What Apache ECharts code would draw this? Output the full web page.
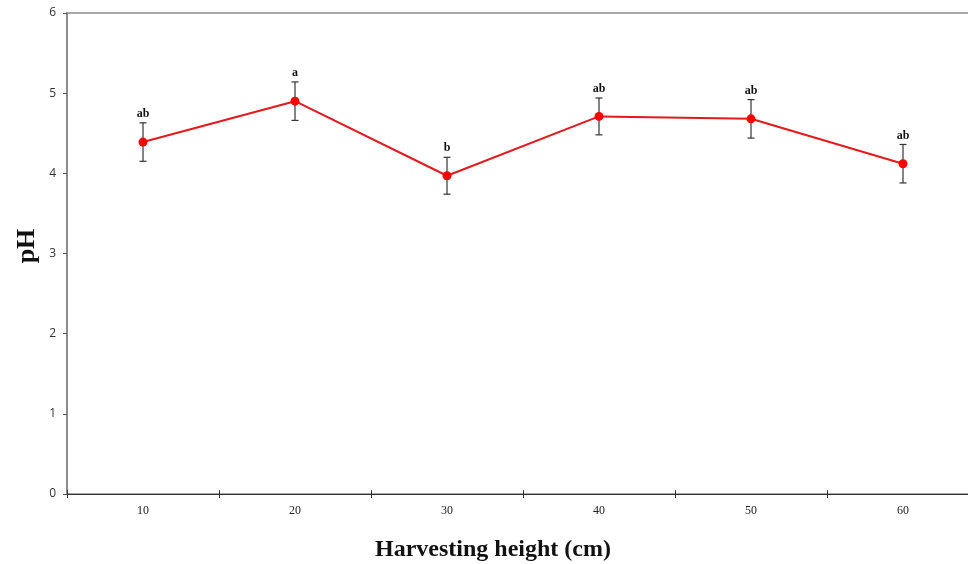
<!DOCTYPE html>
<html>
<head>
<meta charset="utf-8">
<script src="https://cdn.jsdelivr.net/npm/echarts@6/dist/echarts.min.js"></script>
<style>html,body{margin:0;padding:0;background:#fff}#c{width:968px;height:564px}</style>
</head>
<body>
<div id="c"></div>
<script>
var categories = ['10', '20', '30', '40', '50', '60'];
var phValues = [4.39, 4.90, 3.97, 4.71, 4.68, 4.12];
var phErrors = [0.24, 0.24, 0.23, 0.23, 0.24, 0.24];
var letters = ['ab', 'a', 'b', 'ab', 'ab', 'ab'];
var yTicks = [0, 1, 2, 3, 4, 5, 6];
var xTitle = 'Harvesting height (cm)';
var yTitle = 'pH';

var chart = echarts.init(document.getElementById('c'));
var errData = phValues.map(function (v, i) { return [i, v - phErrors[i], v + phErrors[i], letters[i]]; });

chart.setOption({
  animation: false,
  grid: { left: 67, top: 13, width: 912, height: 481, outerBoundsMode: 'none', containLabel: false,
    show: true, borderColor: '#8c8c8c', borderWidth: 1.5, backgroundColor: 'transparent' },
  graphic: [
    { type: 'text', x: 493, y: 550,
      style: { text: xTitle, font: 'bold 24px "Liberation Serif"', fill: '#111', textAlign: 'center', textVerticalAlign: 'middle' } },
    { type: 'text', x: 27, y: 246, rotation: Math.PI / 2,
      style: { text: yTitle, font: 'bold 26px "Liberation Serif"', fill: '#111', textAlign: 'center', textVerticalAlign: 'middle' } }
  ],
  xAxis: [{
    type: 'category', data: categories, boundaryGap: true, position: 'bottom',
    axisLine: { lineStyle: { color: '#333', width: 1.2 } },
    axisTick: { show: true, interval: 0, length: 4, inside: false, lineStyle: { color: '#333' } },
    axisLabel: { color: '#222', fontFamily: 'Liberation Serif', fontSize: 12, margin: 11 }
  }, {
    type: 'category', data: categories, boundaryGap: true, position: 'bottom',
    axisLine: { show: false },
    axisTick: { show: true, interval: 0, length: 4, inside: true, lineStyle: { color: '#333' } },
    axisLabel: { show: false }
  }],
  yAxis: {
    type: 'value', min: 0, max: 6, interval: 1,
    splitLine: { show: false },
    axisLine: { show: true, lineStyle: { color: '#8c8c8c', width: 2 } },
    axisTick: { show: true, length: 4, lineStyle: { color: '#555' } },
    axisLabel: { color: '#333', fontFamily: 'Open Sans', fontSize: 12, margin: 11,
      formatter: function (v) { return yTicks.indexOf(v) >= 0 ? String(v) : ''; } }
  },
  series: [{
    type: 'custom',
    data: errData,
    z: 1,
    renderItem: function (params, api) {
      var x = api.coord([api.value(0), 0])[0];
      var lo = api.coord([api.value(0), api.value(1)])[1];
      var hi = api.coord([api.value(0), api.value(2)])[1];
      var st = { stroke: '#333', lineWidth: 1.2 };
      return { type: 'group', children: [
        { type: 'line', shape: { x1: x, y1: lo, x2: x, y2: hi }, style: st },
        { type: 'line', shape: { x1: x - 3.5, y1: lo, x2: x + 3.5, y2: lo }, style: st },
        { type: 'line', shape: { x1: x - 3.5, y1: hi, x2: x + 3.5, y2: hi }, style: st },
        { type: 'text', style: { text: letters[params.dataIndex], x: x, y: hi - 3, textAlign: 'center', textVerticalAlign: 'bottom',
          font: 'bold 12px "Liberation Serif"', fill: '#111' } }
      ] };
    }
  }, {
    type: 'line', data: phValues, z: 3,
    symbol: 'circle', symbolSize: 9,
    lineStyle: { color: '#e3191c', width: 2 },
    itemStyle: { color: '#ff0000' }
  }]
});
</script>
</body>
</html>
